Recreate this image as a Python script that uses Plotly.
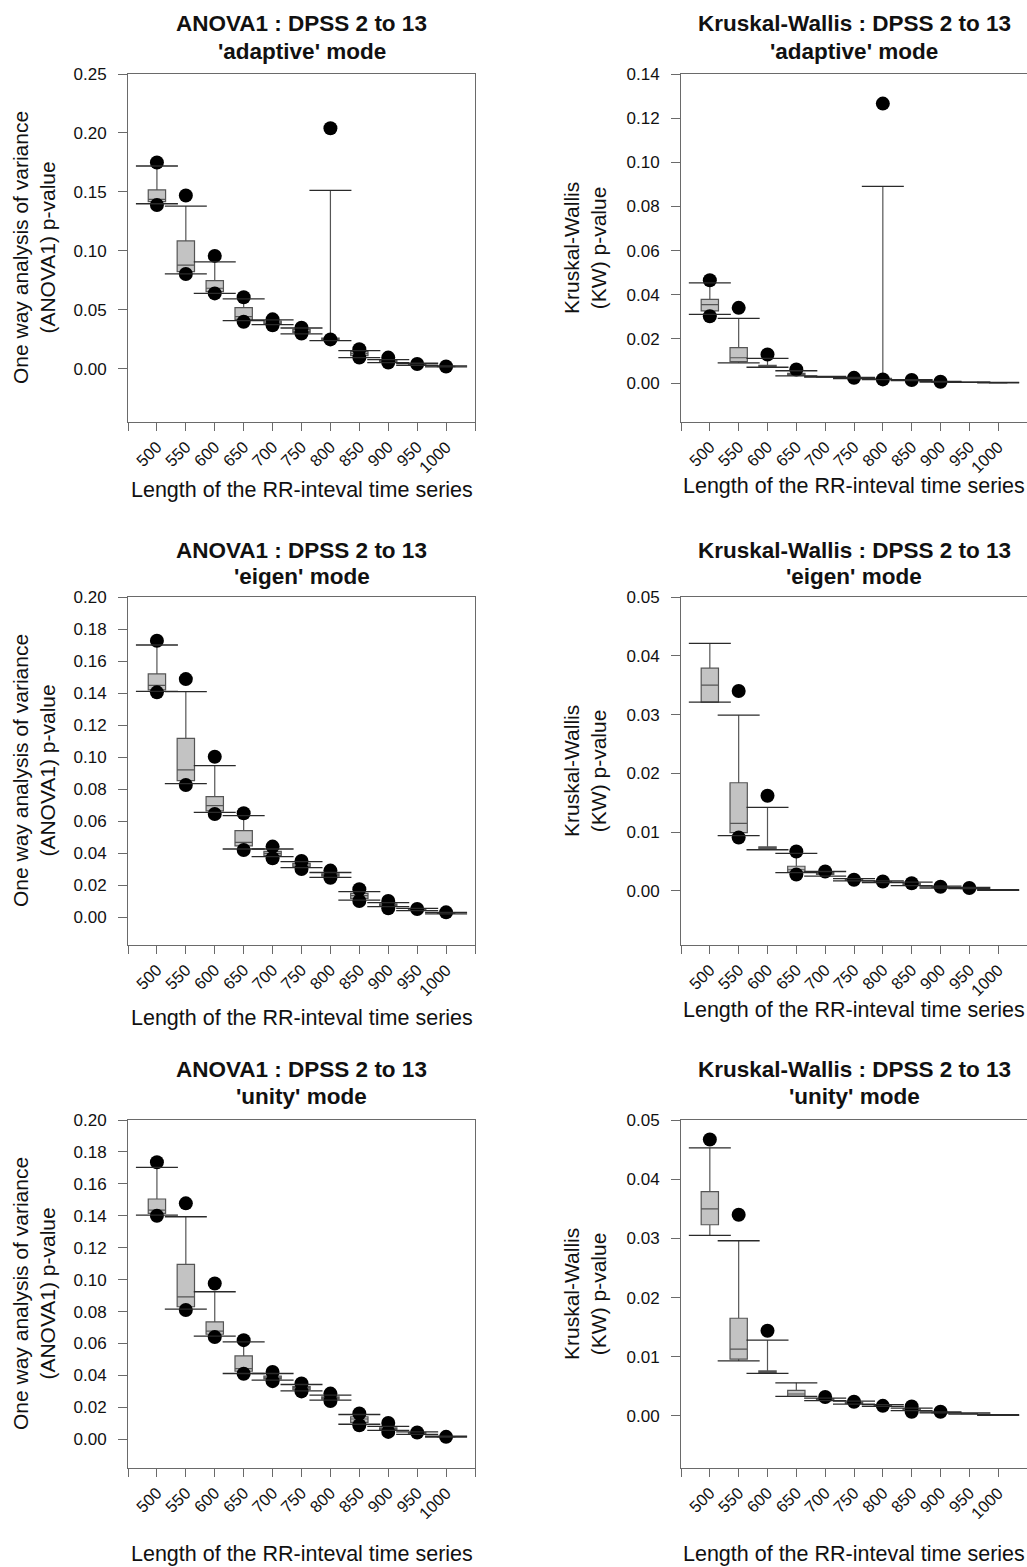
import plotly.graph_objects as go
from plotly.subplots import make_subplots

# ---------------- data ----------------
X_CATS = [500, 550, 600, 650, 700, 750, 800, 850, 900, 950, 1000]

# ANOVA1 - adaptive
AA_DOT_HI = [0.175, 0.147, 0.0958, 0.0607, 0.042, 0.035, 0.204, 0.0167, 0.0096, 0.0042, 0.002]
AA_CAP_HI = [0.172, 0.138, 0.0907, 0.0593, 0.0415, 0.0347, 0.1514, 0.0155, 0.0079, 0.0048, 0.0025]
AA_Q3 = [0.1517, 0.1085, 0.0749, 0.052, 0.0405, 0.0335, 0.0262, 0.0147, 0.0074, 0.0044, 0.0022]
AA_MED = [0.1438, 0.088, 0.0684, 0.0443, 0.039, 0.032, 0.0252, 0.013, 0.0068, 0.004, 0.002]
AA_Q1 = [0.1418, 0.0825, 0.0655, 0.042, 0.0382, 0.031, 0.0245, 0.0113, 0.0062, 0.0036, 0.0019]
AA_CAP_LO = [0.140, 0.0805, 0.0641, 0.041, 0.0375, 0.0297, 0.024, 0.0096, 0.0054, 0.0031, 0.0017]
AA_DOT_LO = [0.139, 0.0805, 0.064, 0.040, 0.037, 0.030, 0.025, 0.0096, 0.0054, None, None]

# Kruskal-Wallis - adaptive
KA_DOT_HI = [0.0466, 0.0341, 0.013, 0.0062, None, 0.0024, 0.1266, 0.0014, 0.0006, None, None]
KA_CAP_HI = [0.0454, 0.0293, 0.0112, 0.0056, 0.0030, 0.0026, 0.0891, 0.0016, 0.0008, 0.0005, 0.0003]
KA_Q3 = [0.0379, 0.0161, 0.0081, 0.0044, 0.0029, 0.0024, 0.0022, 0.0014, 0.0007, 0.0004, 0.0002]
KA_MED = [0.0356, 0.0115, 0.0078, 0.0040, 0.0028, 0.0023, 0.0020, 0.0013, 0.0006, 0.0004, 0.0002]
KA_Q1 = [0.0327, 0.0097, 0.0074, 0.0036, 0.0027, 0.0022, 0.0018, 0.0012, 0.0005, 0.0003, 0.0001]
KA_CAP_LO = [0.0311, 0.0092, 0.0072, 0.0033, 0.0027, 0.0020, 0.0016, 0.0011, 0.0005, 0.0003, 0.0001]
KA_DOT_LO = [0.0303, None, None, None, None, None, 0.0017, None, None, None, None]

# ANOVA1 - eigen
AE_DOT_HI = [0.1727, 0.1487, 0.1002, 0.0648, 0.044, 0.035, 0.029, 0.0173, 0.010, 0.005, 0.0029]
AE_CAP_HI = [0.170, 0.1408, 0.0946, 0.0633, 0.0425, 0.0346, 0.0278, 0.0158, 0.009, 0.0054, 0.0029]
AE_Q3 = [0.1519, 0.1117, 0.0752, 0.054, 0.041, 0.0335, 0.027, 0.0148, 0.0082, 0.005, 0.0027]
AE_MED = [0.1448, 0.0919, 0.0696, 0.0467, 0.0398, 0.0325, 0.0265, 0.0133, 0.0077, 0.0046, 0.0025]
AE_Q1 = [0.1419, 0.0852, 0.0663, 0.0444, 0.0385, 0.0315, 0.0255, 0.0117, 0.007, 0.0042, 0.0022]
AE_CAP_LO = [0.141, 0.0833, 0.0654, 0.0425, 0.0377, 0.0308, 0.0248, 0.0106, 0.0065, 0.004, 0.0019]
AE_DOT_LO = [0.1404, 0.0825, 0.0644, 0.0419, 0.0367, 0.030, 0.0245, 0.010, 0.0054, None, None]

# Kruskal-Wallis - eigen
KE_DOT_HI = [None, 0.034, 0.0162, 0.0067, 0.0033, 0.0019, 0.0016, 0.0013, 0.0007, 0.0005, None]
KE_CAP_HI = [0.0421, 0.0299, 0.0142, 0.0064, 0.0033, 0.0021, 0.0017, 0.0015, 0.0008, 0.0006, 0.0002]
KE_Q3 = [0.0379, 0.0184, 0.0075, 0.0042, 0.0031, 0.002, 0.0016, 0.0013, 0.0007, 0.0005, 0.0002]
KE_MED = [0.035, 0.0115, 0.0073, 0.0036, 0.003, 0.0019, 0.0016, 0.0012, 0.0006, 0.0005, 0.0002]
KE_Q1 = [0.0321, 0.0099, 0.0071, 0.0032, 0.0028, 0.0018, 0.0015, 0.0011, 0.0006, 0.0004, 0.0001]
KE_CAP_LO = [0.0321, 0.0094, 0.007, 0.0031, 0.0025, 0.0017, 0.0014, 0.0009, 0.0005, 0.0004, 0.0001]
KE_DOT_LO = [None, 0.0091, None, 0.0028, None, None, None, None, None, None, None]

# ANOVA1 - unity
AU_DOT_HI = [0.1735, 0.1478, 0.0976, 0.0621, 0.0422, 0.0349, 0.0286, 0.0161, 0.0102, 0.0042, 0.0015]
AU_CAP_HI = [0.1703, 0.1394, 0.0924, 0.061, 0.0412, 0.0343, 0.0276, 0.0155, 0.0081, 0.0046, 0.0019]
AU_Q3 = [0.1505, 0.1095, 0.0736, 0.0522, 0.0395, 0.033, 0.0265, 0.0141, 0.0072, 0.0042, 0.0017]
AU_MED = [0.1436, 0.0892, 0.0677, 0.0443, 0.0385, 0.0322, 0.0259, 0.0127, 0.0067, 0.004, 0.0016]
AU_Q1 = [0.1415, 0.083, 0.0658, 0.0426, 0.0378, 0.0312, 0.0252, 0.0106, 0.0062, 0.0036, 0.0015]
AU_CAP_LO = [0.1404, 0.0815, 0.0646, 0.0412, 0.037, 0.0303, 0.0245, 0.0094, 0.0056, 0.0031, 0.0014]
AU_DOT_LO = [0.140, 0.081, 0.064, 0.041, 0.0364, 0.030, 0.024, 0.0088, 0.0046, None, None]

# Kruskal-Wallis - unity
KU_DOT_HI = [0.0467, 0.034, 0.0144, None, 0.0032, 0.0024, 0.0017, 0.0016, 0.0007, None, None]
KU_CAP_HI = [0.0453, 0.0296, 0.0128, 0.0056, 0.003, 0.0025, 0.0019, 0.0013, 0.0007, 0.0005, 0.0002]
KU_Q3 = [0.0379, 0.0165, 0.0076, 0.0043, 0.0029, 0.0023, 0.0018, 0.0012, 0.0006, 0.0004, 0.0002]
KU_MED = [0.035, 0.0113, 0.0075, 0.0037, 0.0028, 0.0022, 0.0017, 0.0011, 0.0006, 0.0004, 0.0002]
KU_Q1 = [0.0323, 0.0096, 0.0073, 0.0033, 0.0027, 0.0021, 0.0016, 0.001, 0.0005, 0.0004, 0.0001]
KU_CAP_LO = [0.0305, 0.0093, 0.0072, 0.0033, 0.0026, 0.002, 0.0016, 0.0009, 0.0005, 0.0003, 0.0001]
KU_DOT_LO = [None, None, None, None, None, None, None, 0.0007, None, None, None]

TITLES_L1 = ["ANOVA1 : DPSS 2 to 13", "Kruskal-Wallis : DPSS 2 to 13"]
TITLES_L2 = ["'adaptive' mode", "'eigen' mode", "'unity' mode"]
YTITLE_ANOVA = "One way analysis of variance<br>(ANOVA1) p-value"
YTITLE_KW = "Kruskal-Wallis<br>(KW) p-value"
XTITLE = "Length of the RR-inteval time series"

# ---------------- figure ----------------
W, H = 1027, 1567
FONT = "Liberation Sans, Arial, sans-serif"
TXT = "#111111"
AXC = "#6a6a6a"

fig = make_subplots(rows=3, cols=2)

panels = [
    (1, 1, AA_DOT_HI, AA_CAP_HI, AA_Q3, AA_MED, AA_Q1, AA_CAP_LO, AA_DOT_LO, [-0.045, 0.25], 0.05),
    (1, 2, KA_DOT_HI, KA_CAP_HI, KA_Q3, KA_MED, KA_Q1, KA_CAP_LO, KA_DOT_LO, [-0.0176, 0.14], 0.02),
    (2, 1, AE_DOT_HI, AE_CAP_HI, AE_Q3, AE_MED, AE_Q1, AE_CAP_LO, AE_DOT_LO, [-0.0175, 0.20], 0.02),
    (2, 2, KE_DOT_HI, KE_CAP_HI, KE_Q3, KE_MED, KE_Q1, KE_CAP_LO, KE_DOT_LO, [-0.0092, 0.05], 0.01),
    (3, 1, AU_DOT_HI, AU_CAP_HI, AU_Q3, AU_MED, AU_Q1, AU_CAP_LO, AU_DOT_LO, [-0.018, 0.20], 0.02),
    (3, 2, KU_DOT_HI, KU_CAP_HI, KU_Q3, KU_MED, KU_Q1, KU_CAP_LO, KU_DOT_LO, [-0.0088, 0.05], 0.01),
]

# pixel layout of plot areas
COL_X = {1: (128, 475), 2: (681, 1027)}
ROW_Y = {1: (74, 422), 2: (597, 945), 3: (1120, 1468)}
TITLE_Y = {1: (23, 51), 2: (550, 576), 3: (1069, 1096)}
XTITLE_Y = {(1, 1): 490, (1, 2): 486, (2, 1): 1018, (2, 2): 1010, (3, 1): 1554, (3, 2): 1554}

tickpos = [X_CATS[0] - 50] + X_CATS + [X_CATS[-1] + 50]
ticktxt = [""] + [str(v) for v in X_CATS] + [""]

annotations = []
for (r, c, dhi, chi, q3, med, q1, clo, dlo, yr, dt) in panels:
    # dots (drawn first, boxes sit on top)
    dx, dy = [], []
    for x, a, b in zip(X_CATS, dhi, dlo):
        if a is not None:
            dx.append(x); dy.append(a)
        if b is not None:
            dx.append(x); dy.append(b)
    fig.add_trace(go.Scatter(x=dx, y=dy, mode="markers",
                             marker=dict(symbol="circle", size=14, color="black",
                                         line=dict(width=0)),
                             hoverinfo="skip", showlegend=False), row=r, col=c)
    # boxes + whiskers
    fig.add_trace(go.Box(x=X_CATS, q1=q1, median=med, q3=q3,
                         lowerfence=clo, upperfence=chi,
                         width=30, whiskerwidth=0, boxpoints=False,
                         fillcolor="#c3c3c3",
                         line=dict(color="#555555", width=1.2),
                         hoverinfo="skip", showlegend=False), row=r, col=c)
    # whisker caps
    fig.add_trace(go.Scatter(x=X_CATS + X_CATS, y=chi + clo, mode="markers",
                             marker=dict(symbol="line-ew", size=30,
                                         line=dict(width=1.3, color="#2a2a2a")),
                             hoverinfo="skip", showlegend=False), row=r, col=c)

    x0, x1 = COL_X[c]
    y0, y1 = ROW_Y[r]
    fig.update_xaxes(row=r, col=c, domain=[x0 / W, x1 / W], range=[450, 1050],
                     tickmode="array", tickvals=tickpos, ticktext=ticktxt,
                     tickangle=-45, ticks="outside", ticklen=8, tickwidth=1,
                     tickcolor=AXC, showline=True, linecolor=AXC, linewidth=1,
                     mirror=True, showgrid=False, zeroline=False, automargin=False,
                     tickfont=dict(family=FONT, size=16.5, color=TXT))
    fig.update_yaxes(row=r, col=c, domain=[1 - y1 / H, 1 - y0 / H], range=yr,
                     tick0=0, dtick=dt, tickformat=".2f",
                     ticks="outside", ticklen=9, tickwidth=1, tickcolor=AXC,
                     ticklabelstandoff=8,
                     showline=True, linecolor=AXC, linewidth=1, mirror=True,
                     showgrid=False, zeroline=False, automargin=False,
                     tickfont=dict(family=FONT, size=17, color=TXT))

    xc = (x0 + x1) / 2 / W
    t1y, t2y = TITLE_Y[r]
    annotations.append(dict(text="<b>" + TITLES_L1[c - 1] + "</b>", x=xc, y=1 - t1y / H,
                            xref="paper", yref="paper", showarrow=False,
                            xanchor="center", yanchor="middle",
                            font=dict(family=FONT, size=22.5, color=TXT)))
    annotations.append(dict(text="<b>" + TITLES_L2[r - 1] + "</b>", x=xc, y=1 - t2y / H,
                            xref="paper", yref="paper", showarrow=False,
                            xanchor="center", yanchor="middle",
                            font=dict(family=FONT, size=22.5, color=TXT)))
    annotations.append(dict(text=XTITLE, x=xc, y=1 - XTITLE_Y[(r, c)] / H,
                            xref="paper", yref="paper", showarrow=False,
                            xanchor="center", yanchor="middle",
                            font=dict(family=FONT, size=21.5, color=TXT)))
    ytx = 34 if c == 1 else 585
    annotations.append(dict(text=YTITLE_ANOVA if c == 1 else YTITLE_KW,
                            x=ytx / W, y=1 - (y0 + y1) / 2 / H,
                            xref="paper", yref="paper", showarrow=False,
                            textangle=-90, xanchor="center", yanchor="middle",
                            font=dict(family=FONT, size=21, color=TXT)))

fig.update_layout(width=W, height=H, margin=dict(l=0, r=0, t=0, b=0),
                  paper_bgcolor="white", plot_bgcolor="white",
                  showlegend=False, annotations=annotations,
                  font=dict(family=FONT, color=TXT))

fig.write_html("out.html", config={"displayModeBar": False},
               post_script="document.body.style.margin='0';"
                           "document.body.style.overflow='hidden';")
